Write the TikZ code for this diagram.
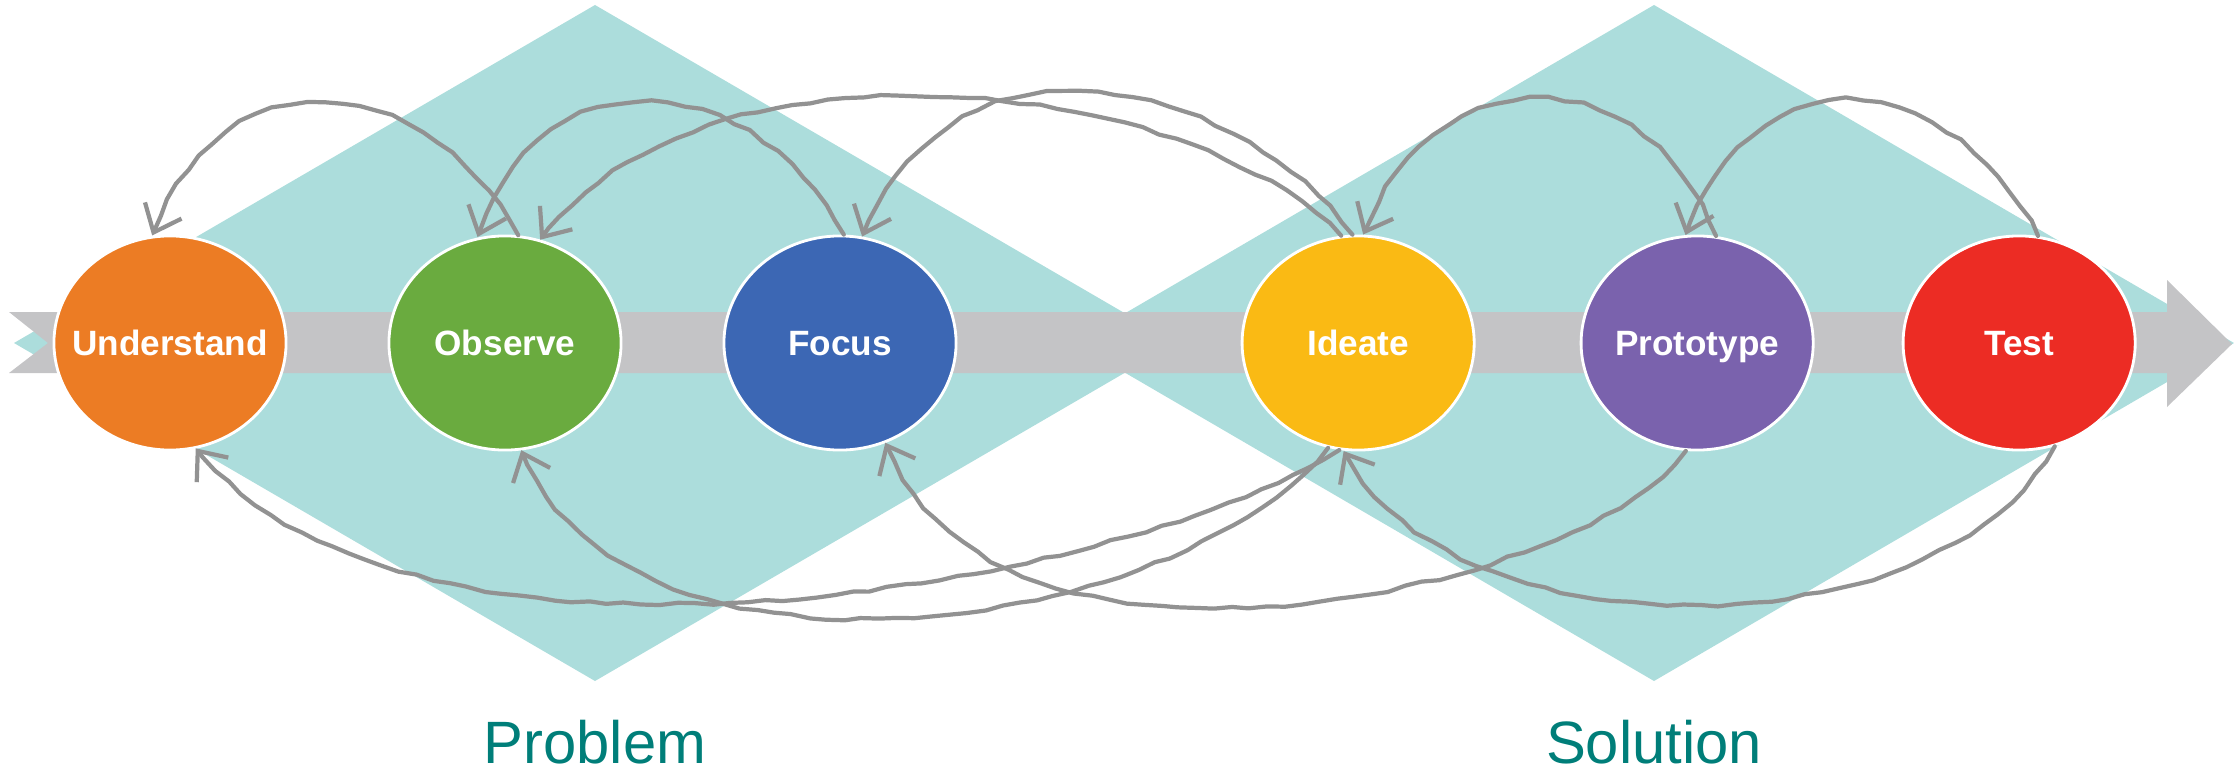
\documentclass[tikz,border=0pt]{standalone}
\usepackage{fontspec}
\setmainfont{Liberation Sans}
\usetikzlibrary{positioning,arrows.meta,shapes.geometric,decorations.pathmorphing}
\definecolor{teallight}{RGB}{172,221,220}
\definecolor{bandgray}{RGB}{196,196,198}
\definecolor{loopgray}{RGB}{146,146,146}
\definecolor{phasetext}{RGB}{0,126,121}
\definecolor{cund}{RGB}{236,124,36}
\definecolor{cobs}{RGB}{106,171,63}
\definecolor{cfoc}{RGB}{60,103,180}
\definecolor{cide}{RGB}{250,186,20}
\definecolor{cpro}{RGB}{122,98,173}
\definecolor{ctes}{RGB}{236,44,36}
\newcommand{\steplabel}[1]{\makebox[0pt]{#1}}

\begin{document}
\pgfmathsetseed{7}
\begin{tikzpicture}[x=0.01cm, y=-0.01cm,
  stage/.style={ellipse, draw=white, line width=0.8pt, minimum width=2.32cm, minimum height=2.14cm, inner sep=0pt, text height=7.2pt, text depth=0pt, text=white, font=\bfseries\fontsize{10}{12}\selectfont},
  loop/.style={draw=loopgray, line width=1.2pt, line cap=round, line join=round, decoration={random steps, segment length=5pt, amplitude=0.45pt}, decorate, -{Straight Barb[length=2.4mm, width=4mm]}},
  phase/.style={text=phasetext, anchor=base, inner sep=0pt, font=\fontsize{17}{20}\selectfont}]
\useasboundingbox (0,0) rectangle (2234,773);
\fill[teallight] (595,5) -- (1176,343) -- (595,681) -- (14,343) -- cycle;
\fill[teallight] (1654,5) -- (2234,343) -- (1654,681) -- (1074,343) -- cycle;
\fill[bandgray] (9,312) -- (2167,312) -- (2167,280) -- (2232,344) -- (2167,407) -- (2167,373) -- (9,373) -- (48,343) -- cycle;
\node[stage, fill=cund] (und) at (170,343) {\steplabel{Understand}};
\node[stage, fill=cobs, right=1cm of und] (obs) {\steplabel{Observe}};
\node[stage, fill=cfoc, right=1cm of obs] (foc) {\steplabel{Focus}};
\node[stage, fill=cide, right=2.83cm of foc] (ide) {\steplabel{Ideate}};
\node[stage, fill=cpro, right=1.04cm of ide] (pro) {\steplabel{Prototype}};
\node[stage, fill=ctes, right=0.87cm of pro] (tes) {\steplabel{Test}};
\node[phase] (prob) at (595,763) {Problem};
\node[phase] (sol) at (1654,763) {Solution};
\draw[loop] (obs.83) .. controls (431,75) and (225,40) .. (und.99);
\draw[loop] (foc.88) .. controls (762,76) and (543,38) .. (obs.104);
\draw[loop] (ide.99) .. controls (1184,76) and (702,22) .. (obs.71);
\draw[loop] (ide.93) .. controls (1246,90) and (961,0) .. (foc.78);
\draw[loop] (pro.80) .. controls (1640,45) and (1425,62) .. (ide.87);
\draw[loop] (tes.80) .. controls (1955,76) and (1762,35) .. (pro.96);
\draw[loop] (ide.260) .. controls (1099,594) and (409,710) .. (und.284);
\draw[loop] (ide.254) .. controls (1164,643) and (621,706) .. (obs.279);
\draw[loop] (tes.289) .. controls (1931,662) and (1441,654) .. (ide.263);
\draw[loop] (pro.264) .. controls (1590,589) and (991,726) .. (foc.295);
\end{tikzpicture}
\end{document}
